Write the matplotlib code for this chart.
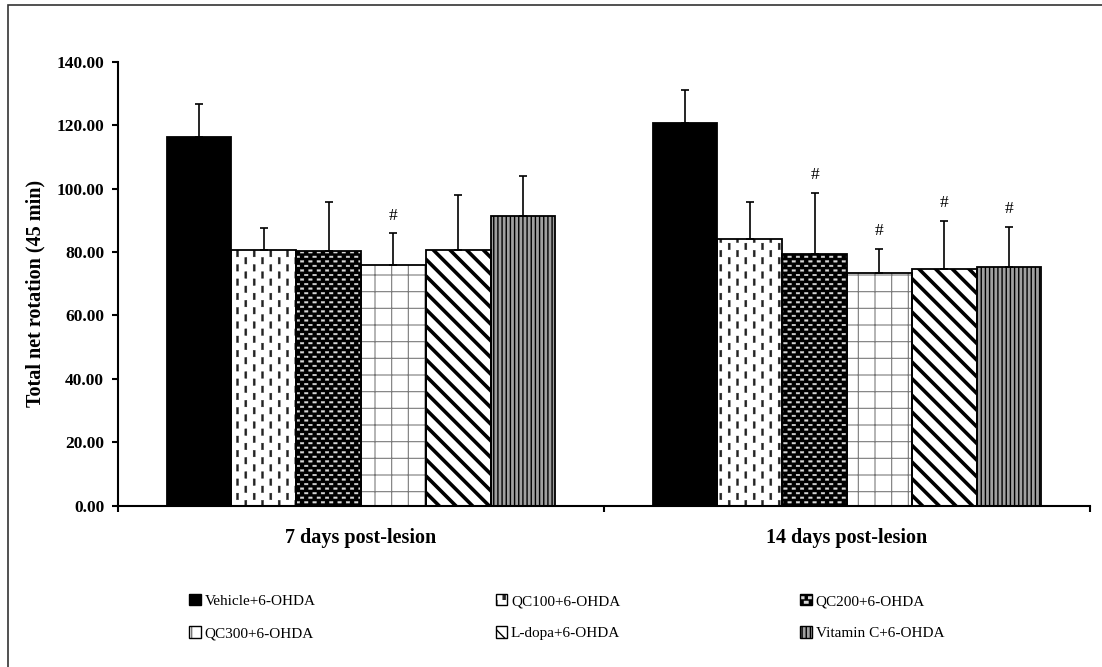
import numpy as np
import matplotlib
matplotlib.use("Agg")
import matplotlib.pyplot as plt
import matplotlib.hatch as mhatch
from matplotlib.path import Path
from matplotlib.patches import Patch, Rectangle

groups = ["7 days post-lesion", "14 days post-lesion"]
treatments = ["Vehicle+6-OHDA", "QC100+6-OHDA", "QC200+6-OHDA",
              "QC300+6-OHDA", "L-dopa+6-OHDA", "Vitamin C+6-OHDA"]
means_7d = [116.4, 80.5, 80.4, 75.8, 80.5, 91.5]
sem_7d = [10.4, 7.1, 15.5, 10.1, 17.5, 12.6]
means_14d = [120.8, 84.1, 79.3, 73.3, 74.5, 75.2]
sem_14d = [10.4, 11.7, 19.4, 7.7, 15.3, 12.8]
sig_7d = [False, False, False, True, False, False]
sig_14d = [False, False, True, True, True, True]


# staggered rows of small filled boxes, used for the dash / oval fills
class SpotHatch(mhatch.HatchPatternBase):
    key = "o"
    nx, ny, w, h = 6, 14, 0.02, 0.065

    def __init__(self, hatch, density):
        self.num_vertices = self.nx * self.ny * 5 if self.key in hatch else 0

    def set_vertices_and_codes(self, vertices, codes):
        box = np.array([[-1, -1], [1, -1], [1, 1], [-1, 1], [-1, -1]]) * [self.w / 2, self.h / 2]
        k = 0
        for j in range(self.ny):
            y = (j + 0.5) / self.ny
            for i in range(self.nx):
                x = (i + 0.25 + 0.5 * (j % 2)) / self.nx
                vertices[k:k + 5] = box + [x, y]
                codes[k:k + 5] = [Path.MOVETO, Path.LINETO, Path.LINETO, Path.LINETO, Path.CLOSEPOLY]
                k += 5


class DashHatch(SpotHatch):
    key = "o"
    nx, ny, w, h = 6, 14, 0.02, 0.065


class OvalHatch(SpotHatch):
    key = "O"
    nx, ny, w, h = 12, 22, 0.035, 0.016


mhatch._hatch_types = [t for t in mhatch._hatch_types
                       if t not in (mhatch.SmallCircles, mhatch.LargeCircles)] + [DashHatch, OvalHatch]

styles = [
    dict(facecolor="black", edgecolor="black", hatch=None),
    dict(facecolor="white", edgecolor="#222222", hatch="o"),
    dict(facecolor="black", edgecolor="#d8d8d8", hatch="O"),
    dict(facecolor="white", edgecolor="#7a7a7a", hatch="+"),
    dict(facecolor="white", edgecolor="black", hatch="\\\\"),
    dict(facecolor="#a0a0a0", edgecolor="black", hatch="||||"),
]
hatch_lw = [1.0, 0.3, 0.3, 0.8, 2.6, 1.0]

plt.rcParams["font.family"] = ["Liberation Serif", "DejaVu Serif"]

fig = plt.figure(figsize=(11.02, 6.67), dpi=100)
ax = fig.add_axes([0.1071, 0.2418, 0.882, 0.6657])

x = np.arange(len(groups))
n = len(treatments)
width = 0.8 / n
means = np.array([means_7d, means_14d])
sems = np.array([sem_7d, sem_14d])
sigs = np.array([sig_7d, sig_14d])

handles = []
for i in range(n):
    pos = x + (i - (n - 1) / 2) * width
    with plt.rc_context({"hatch.linewidth": hatch_lw[i]}):
        ax.bar(pos, means[:, i], width, linewidth=0, zorder=2, **styles[i])
        fill = Patch(linewidth=0, **styles[i])
    ax.bar(pos, means[:, i], width, fill=False, edgecolor="black", linewidth=1.3, zorder=3)
    ax.errorbar(pos, means[:, i], yerr=[np.zeros(len(groups)), sems[:, i]], fmt="none",
                ecolor="black", elinewidth=1.2, capsize=3, capthick=1.2, zorder=4)
    for g in range(len(groups)):
        if sigs[g, i]:
            ax.annotate("#", (pos[g], means[g, i] + sems[g, i]), xytext=(0, 7),
                        textcoords="offset points", ha="center", va="bottom", fontsize=12.5)
    handles.append((fill, Patch(facecolor="none", edgecolor="black", linewidth=1.0)))

ax.set_ylim(0, 140)
ax.set_yticks(np.arange(0, 141, 20))
ax.yaxis.set_major_formatter(matplotlib.ticker.FormatStrFormatter("%.2f"))
ax.set_xlim(-0.5, 1.5)
ax.set_xticks([-0.5, 0.5, 1.5])
ax.set_xticklabels([])
ax.set_xticks(x, minor=True)
ax.set_xticklabels(groups, minor=True, fontsize=14.5, fontweight="bold")
ax.tick_params(axis="x", which="minor", length=0, pad=16)
ax.tick_params(axis="both", which="major", direction="out", length=4, width=1.5)
ax.tick_params(axis="y", pad=6, labelsize=12.5)
for lab in ax.get_yticklabels():
    lab.set_fontweight("bold")
for s in ["top", "right"]:
    ax.spines[s].set_visible(False)
for s in ["left", "bottom"]:
    ax.spines[s].set_linewidth(1.5)

fig.text(35 / 1102, 1 - 293 / 667, "Total net rotation (45 min)", rotation=90,
         ha="center", va="center", fontsize=14.5, fontweight="bold")

# legend filled column-wise, so reorder to get rows of three
order = [0, 3, 1, 4, 2, 5]
fig.legend([handles[k] for k in order], [treatments[k] for k in order], ncol=3,
           loc="upper left", bbox_to_anchor=(183 / 1102, 1 - 588 / 667), frameon=False,
           fontsize=11, handlelength=0.75, handleheight=0.75, handletextpad=0.25,
           columnspacing=11.8, labelspacing=1.2, borderaxespad=0)

fig.add_artist(Rectangle((8 / 1102, -0.1), 1.2, 1.1 - 5 / 667, transform=fig.transFigure,
                         fill=False, edgecolor="#333333", linewidth=1.2))

fig.savefig("out.png", dpi=100)
